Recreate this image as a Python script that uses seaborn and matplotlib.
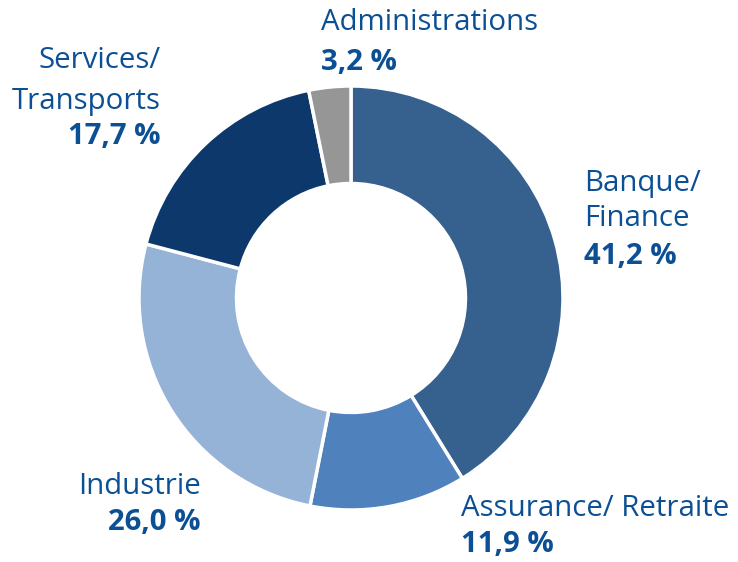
import matplotlib
matplotlib.use("Agg")
import matplotlib.pyplot as plt
import seaborn as sns

categories = ["Banque/\nFinance", "Assurance/ Retraite", "Industrie", "Services/\nTransports", "Administrations"]
values = [41.2, 11.9, 26.0, 17.7, 3.2]
pct_labels = ["41,2 %", "11,9 %", "26,0 %", "17,7 %", "3,2 %"]
colors = ["#36618F", "#4F81BD", "#95B3D7", "#0C386B", "#969696"]

sns.set_theme(style="white")
plt.rcParams['font.family'] = ['Open Sans', 'DejaVu Sans']

W, H, DPI = 738, 562, 100
fig = plt.figure(figsize=(W / DPI, H / DPI), dpi=DPI)
ax = fig.add_axes([0, 0, 1, 1])

cx, cy, R = 351, 298, 212  # pixel center and radius


def px(x, y):
    return (x - cx) / R, (cy - y) / R


ax.pie(values, colors=colors, startangle=90, counterclock=False, radius=1.0,
       wedgeprops=dict(width=0.46, edgecolor="white", linewidth=2.5))
ax.set_xlim(px(0, 0)[0], px(W, 0)[0])
ax.set_ylim(px(0, H)[1], px(0, 0)[1])
ax.set_aspect("equal")
ax.axis("off")

txt_color = "#0B4F94"
fs = 21.2
# label layout: (x, y of name top line, alignment, line spacing, y of pct)
layout = [
    (584, 183, "left", 36, 256),
    (461, 508, "left", 36, 545),
    (201, 487, "right", 36, 523),
    (161, 60, "right", 41, 137),
    (321, 22, "left", 40, 62),
]
for name, pct, (x, y, ha, ls, yp) in zip(categories, pct_labels, layout):
    lines = name.split("\n")
    for i, line in enumerate(lines):
        tx, ty = px(x, y + i * ls)
        ax.text(tx, ty, line, ha=ha, va="center", fontsize=fs, color=txt_color)
    tx, ty = px(x, yp)
    ax.text(tx, ty, pct, ha=ha, va="center", fontsize=fs, color=txt_color, fontweight="bold")

fig.savefig("out.png", dpi=DPI)
